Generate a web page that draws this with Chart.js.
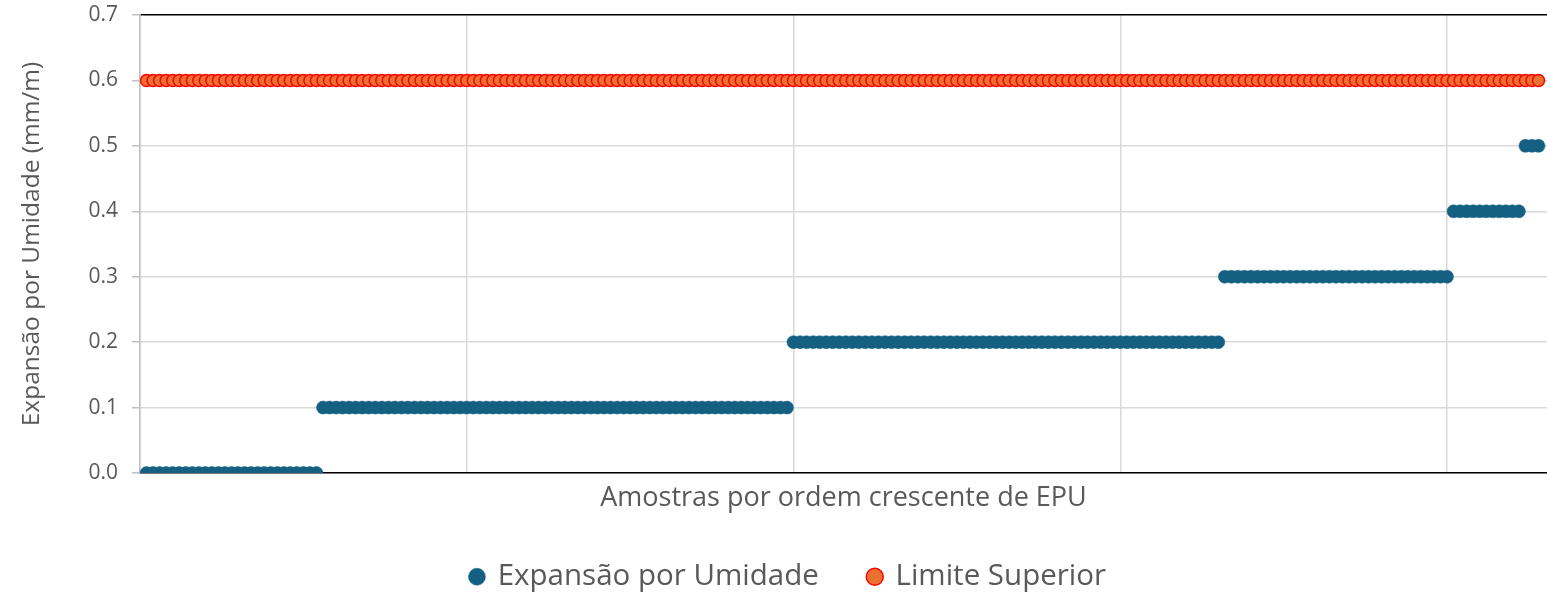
<!DOCTYPE html>
<html>
<head>
<meta charset="utf-8">
<script src="https://cdn.jsdelivr.net/npm/chart.js@4"></script>
<style>
  html, body { margin: 0; padding: 0; background: #fff; }
  #wrap { width: 1547px; height: 592px; position: relative; }
</style>
</head>
<body>
<div id="wrap"><canvas id="epuChart"></canvas></div>
<script>
// EPU values of the samples, already sorted in ascending order (mm/m)
const expansao = [
  0, 0, 0, 0, 0, 0, 0, 0, 0, 0,
  0, 0, 0, 0, 0, 0, 0, 0, 0, 0,
  0, 0, 0, 0, 0, 0, 0,
  0.1, 0.1, 0.1, 0.1, 0.1, 0.1, 0.1, 0.1, 0.1, 0.1,
  0.1, 0.1, 0.1, 0.1, 0.1, 0.1, 0.1, 0.1, 0.1, 0.1,
  0.1, 0.1, 0.1, 0.1, 0.1, 0.1, 0.1, 0.1, 0.1, 0.1,
  0.1, 0.1, 0.1, 0.1, 0.1, 0.1, 0.1, 0.1, 0.1, 0.1,
  0.1, 0.1, 0.1, 0.1, 0.1, 0.1, 0.1, 0.1, 0.1, 0.1,
  0.1, 0.1, 0.1, 0.1, 0.1, 0.1, 0.1, 0.1, 0.1, 0.1,
  0.1, 0.1, 0.1, 0.1, 0.1, 0.1, 0.1, 0.1, 0.1, 0.1,
  0.1, 0.1,
  0.2, 0.2, 0.2, 0.2, 0.2, 0.2, 0.2, 0.2, 0.2, 0.2,
  0.2, 0.2, 0.2, 0.2, 0.2, 0.2, 0.2, 0.2, 0.2, 0.2,
  0.2, 0.2, 0.2, 0.2, 0.2, 0.2, 0.2, 0.2, 0.2, 0.2,
  0.2, 0.2, 0.2, 0.2, 0.2, 0.2, 0.2, 0.2, 0.2, 0.2,
  0.2, 0.2, 0.2, 0.2, 0.2, 0.2, 0.2, 0.2, 0.2, 0.2,
  0.2, 0.2, 0.2, 0.2, 0.2, 0.2, 0.2, 0.2, 0.2, 0.2,
  0.2, 0.2, 0.2, 0.2, 0.2, 0.2,
  0.3, 0.3, 0.3, 0.3, 0.3, 0.3, 0.3, 0.3, 0.3, 0.3,
  0.3, 0.3, 0.3, 0.3, 0.3, 0.3, 0.3, 0.3, 0.3, 0.3,
  0.3, 0.3, 0.3, 0.3, 0.3, 0.3, 0.3, 0.3, 0.3, 0.3,
  0.3, 0.3, 0.3, 0.3, 0.3,
  0.4, 0.4, 0.4, 0.4, 0.4, 0.4, 0.4, 0.4, 0.4, 0.4,
  0.4,
  0.5, 0.5, 0.5
];

// upper limit, one point per sample
const limiteSuperior = [
  0.6, 0.6, 0.6, 0.6, 0.6, 0.6, 0.6, 0.6, 0.6, 0.6,
  0.6, 0.6, 0.6, 0.6, 0.6, 0.6, 0.6, 0.6, 0.6, 0.6,
  0.6, 0.6, 0.6, 0.6, 0.6, 0.6, 0.6, 0.6, 0.6, 0.6,
  0.6, 0.6, 0.6, 0.6, 0.6, 0.6, 0.6, 0.6, 0.6, 0.6,
  0.6, 0.6, 0.6, 0.6, 0.6, 0.6, 0.6, 0.6, 0.6, 0.6,
  0.6, 0.6, 0.6, 0.6, 0.6, 0.6, 0.6, 0.6, 0.6, 0.6,
  0.6, 0.6, 0.6, 0.6, 0.6, 0.6, 0.6, 0.6, 0.6, 0.6,
  0.6, 0.6, 0.6, 0.6, 0.6, 0.6, 0.6, 0.6, 0.6, 0.6,
  0.6, 0.6, 0.6, 0.6, 0.6, 0.6, 0.6, 0.6, 0.6, 0.6,
  0.6, 0.6, 0.6, 0.6, 0.6, 0.6, 0.6, 0.6, 0.6, 0.6,
  0.6, 0.6, 0.6, 0.6, 0.6, 0.6, 0.6, 0.6, 0.6, 0.6,
  0.6, 0.6, 0.6, 0.6, 0.6, 0.6, 0.6, 0.6, 0.6, 0.6,
  0.6, 0.6, 0.6, 0.6, 0.6, 0.6, 0.6, 0.6, 0.6, 0.6,
  0.6, 0.6, 0.6, 0.6, 0.6, 0.6, 0.6, 0.6, 0.6, 0.6,
  0.6, 0.6, 0.6, 0.6, 0.6, 0.6, 0.6, 0.6, 0.6, 0.6,
  0.6, 0.6, 0.6, 0.6, 0.6, 0.6, 0.6, 0.6, 0.6, 0.6,
  0.6, 0.6, 0.6, 0.6, 0.6, 0.6, 0.6, 0.6, 0.6, 0.6,
  0.6, 0.6, 0.6, 0.6, 0.6, 0.6, 0.6, 0.6, 0.6, 0.6,
  0.6, 0.6, 0.6, 0.6, 0.6, 0.6, 0.6, 0.6, 0.6, 0.6,
  0.6, 0.6, 0.6, 0.6, 0.6, 0.6, 0.6, 0.6, 0.6, 0.6,
  0.6, 0.6, 0.6, 0.6, 0.6, 0.6, 0.6, 0.6, 0.6, 0.6,
  0.6, 0.6, 0.6, 0.6
];

const seriesNames = ['Expansão por Umidade', 'Limite Superior'];
const yTickLabels = ['0.0', '0.1', '0.2', '0.3', '0.4', '0.5', '0.6', '0.7'];

// the x position of each point is just its place in the sorted list (1, 2, 3 ...)
function toPoints(values) {
  return values.map((v, i) => ({ x: i + 1, y: v }));
}

// the legend needs wide gaps between items but should stay short,
// so after chart.js measures it we cut its height back down
// and nudge it a bit to the right like in the original
const legendFix = {
  id: 'legendFix',
  afterInit(chart) {
    const legend = chart.legend;
    if (!legend) return;
    const origFit = legend.fit;
    legend.fit = function () {
      origFit.call(this);
      this.height = 80;
    };
  },
  afterLayout(chart) {
    if (!chart.legend) return;
    chart.legend.left += 15;
    chart.legend.right += 15;
  }
};

Chart.defaults.font.family = "'Open Sans', 'Liberation Sans', sans-serif";
Chart.defaults.color = '#595959';

const ctx = document.getElementById('epuChart').getContext('2d');

new Chart(ctx, {
  type: 'scatter',
  data: {
    datasets: [
      {
        label: seriesNames[0],
        data: toPoints(expansao),
        pointRadius: 6.5,
        pointBackgroundColor: '#156082',
        pointBorderColor: '#156082',
        pointBorderWidth: 0.5
      },
      {
        label: seriesNames[1],
        data: toPoints(limiteSuperior),
        pointRadius: 6,
        pointBackgroundColor: '#E97132',
        pointBorderColor: '#FF0000',
        pointBorderWidth: 1.5
      }
    ]
  },
  plugins: [legendFix],
  options: {
    responsive: true,
    maintainAspectRatio: false,
    animation: false,
    layout: {
      autoPadding: false,
      padding: { top: 15, left: 0, right: 0, bottom: 0 }
    },
    plugins: {
      tooltip: { enabled: false },
      legend: {
        position: 'bottom',
        labels: {
          usePointStyle: true,
          pointStyle: 'circle',
          boxWidth: 12,
          boxHeight: 12,
          padding: 50,
          color: '#595959',
          font: { size: 29.5 }
        }
      }
    },
    scales: {
      x: {
        type: 'linear',
        min: 0,
        max: 215.3,
        ticks: { display: false, stepSize: 50 },
        grid: {
          color: (c) => (c.tick && c.tick.value % 50 === 0) ? '#d9d9d9' : 'rgba(0,0,0,0)',
          lineWidth: 1.5,
          drawTicks: false
        },
        border: { display: true, color: '#000000', width: 1.5 },
        title: {
          display: true,
          text: 'Amostras por ordem crescente de EPU',
          color: '#595959',
          font: { size: 27 },
          padding: { top: 0, bottom: -3 }
        },
        afterFit: (scale) => { scale.height = 39; }
      },
      y: {
        min: 0,
        max: 0.7,
        ticks: {
          stepSize: 0.1,
          padding: 14,
          color: '#595959',
          font: { size: 21 },
          callback: (value, index) => yTickLabels[index]
        },
        grid: {
          color: (c) => (c.tick && Math.abs(c.tick.value - 0.7) < 1e-6) ? '#000000' : '#d9d9d9',
          lineWidth: 1.5,
          tickLength: 8,
          tickColor: '#bfbfbf'
        },
        border: { display: true, color: '#bfbfbf', width: 1.5 },
        title: {
          display: true,
          text: 'Expansão por Umidade (mm/m)',
          color: '#595959',
          font: { size: 24.5 },
          padding: { top: 17, bottom: 0 }
        },
        afterFit: (scale) => {
          scale.width = 140;
          scale.paddingTop = 0;
          scale.paddingBottom = 0;
        }
      }
    }
  }
});
</script>
</body>
</html>
